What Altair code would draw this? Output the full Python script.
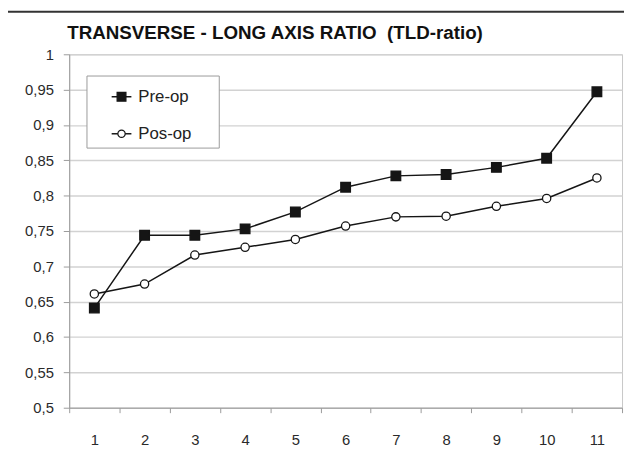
import altair as alt
import pandas as pd

TITLE = "TRANSVERSE - LONG AXIS RATIO  (TLD-ratio)"
CASES = [1, 2, 3, 4, 5, 6, 7, 8, 9, 10, 11]
SERIES = ["Pre-op", "Pos-op"]
PRE_OP = [0.641, 0.744, 0.744, 0.753, 0.777, 0.812, 0.828, 0.830, 0.840, 0.853, 0.947]
POS_OP = [0.661, 0.675, 0.716, 0.727, 0.738, 0.757, 0.770, 0.771, 0.785, 0.796, 0.825]
Y_TICKS = [0.5, 0.55, 0.6, 0.65, 0.7, 0.75, 0.8, 0.85, 0.9, 0.95, 1.0]

rows = []
for name, vals in zip(SERIES, [PRE_OP, POS_OP]):
    for c, v in zip(CASES, vals):
        rows.append({"case": c, "value": v, "series": name})
df = pd.DataFrame(rows)

FONT = "Liberation Sans"
INK = "#151515"

x_enc = alt.X(
    "case:O",
    sort=CASES,
    bandPosition=0.5,
    scale=alt.Scale(type="band", paddingInner=0, paddingOuter=0),
    axis=alt.Axis(title=None, labelAngle=0, tickBand="extent", grid=False,
                  tickSize=5, labelPadding=20),
)
y_enc = alt.Y(
    "value:Q",
    scale=alt.Scale(domain=[0.5, 1.0], nice=False, zero=False),
    axis=alt.Axis(title=None, values=Y_TICKS, grid=True, tickSize=6, labelPadding=10,
                  labelExpr="replace(format(datum.value, '.2~f'), '.', ',')"),
)

lines = alt.Chart(df).mark_line(color=INK, strokeWidth=1.5).encode(
    x=x_enc, y=y_enc, detail="series:N"
)
points = alt.Chart(df).mark_point(filled=True, stroke=INK, strokeWidth=1.3, opacity=1).encode(
    x=x_enc,
    y=y_enc,
    shape=alt.Shape("series:N", scale=alt.Scale(domain=SERIES, range=["square", "circle"]), legend=None),
    fill=alt.Fill("series:N", scale=alt.Scale(domain=SERIES, range=[INK, "white"]), legend=None),
    size=alt.Size("series:N", scale=alt.Scale(domain=SERIES, range=[95, 70]), legend=None),
)

# keep the double space visible in SVG text
one = alt.Data(values=[{"title": TITLE.replace("  ", " \u00a0")}])

top_rule = alt.Chart(one).mark_rule(color="#333333", strokeWidth=2).encode(
    x=alt.value(-62), x2=alt.value(562), y=alt.value(-43)
)

title_mark = alt.Chart(one).mark_text(
    align="left", baseline="middle", font=FONT, fontSize=19, fontWeight="bold", color="#111111"
).encode(x=alt.value(-2), y=alt.value(-22), text="title:N")

legend_box = alt.Chart(one).mark_rect(fill="white", stroke="#9a9a9a", strokeWidth=1).encode(
    x=alt.value(18), x2=alt.value(152), y=alt.value(22), y2=alt.value(95)
)

legend_layers = [legend_box]
SHAPES = ["square", "circle"]
FILLS = [INK, "white"]
SIZES = [80, 55]
for i, name in enumerate(SERIES):
    yy = 43 + i * 37.5
    d = alt.Data(values=[{"series": name}])
    legend_layers.append(
        alt.Chart(d).mark_rule(color=INK, strokeWidth=1.5).encode(
            x=alt.value(43), x2=alt.value(63), y=alt.value(yy)
        )
    )
    legend_layers.append(
        alt.Chart(d).mark_point(shape=SHAPES[i], filled=True, fill=FILLS[i], stroke=INK,
                                strokeWidth=1.2, size=SIZES[i], opacity=1).encode(
            x=alt.value(53), y=alt.value(yy)
        )
    )
    legend_layers.append(
        alt.Chart(d).mark_text(align="left", baseline="middle", font=FONT, fontSize=17,
                               color="#222222").encode(
            x=alt.value(70), y=alt.value(yy), text="series:N"
        )
    )

chart = alt.layer(lines, points, top_rule, title_mark, *legend_layers).properties(
    width=560,
    height=358,
    autosize=alt.AutoSizeParams(type="none"),
    padding={"left": 62, "top": 44, "right": 2, "bottom": 45},
).configure_axis(
    labelFont=FONT, labelFontSize=15, labelColor="#2a2a2a",
    domainColor="#9a9a9a", tickColor="#9a9a9a", gridColor="#d2d2d2", gridWidth=1.5,
).configure_view(stroke="#c8c8c8")

chart.save("out.html", embed_options={"renderer": "svg", "actions": False})
